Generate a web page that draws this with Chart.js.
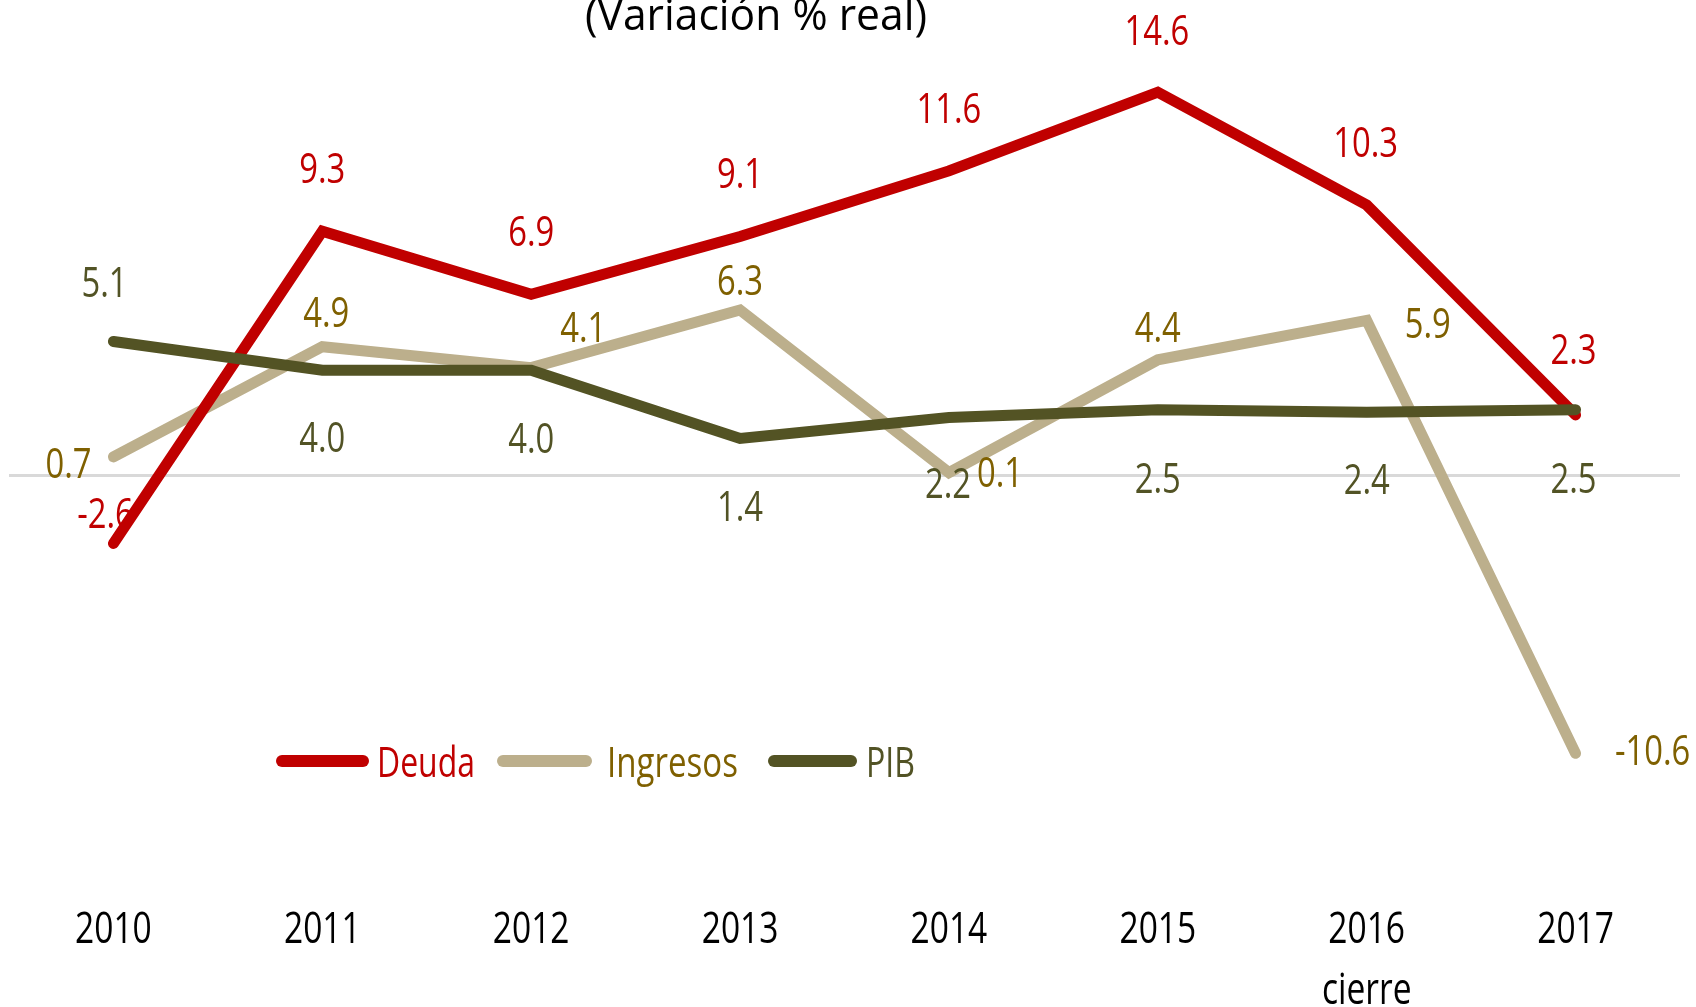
<!DOCTYPE html>
<html>
<head>
<meta charset="utf-8">
<script src="https://cdn.jsdelivr.net/npm/chart.js@4/dist/chart.umd.min.js"></script>
<style>
  html, body { margin: 0; padding: 0; background: #ffffff; overflow: hidden; }
  #wrap { position: relative; width: 1696px; height: 1007px; }
</style>
</head>
<body>
<div id="wrap"><canvas id="c"></canvas></div>
<script>
// ---- data ----
const categories = ['2010', '2011', '2012', '2013', '2014', '2015', ['2016', 'cierre'], '2017'];
const deuda    = [-2.6, 9.3, 6.9, 9.1, 11.6, 14.6, 10.3, 2.3];
const ingresos = [0.7, 4.9, 4.1, 6.3, 0.1, 4.4, 5.9, -10.6];
const pib      = [5.1, 4.0, 4.0, 1.4, 2.2, 2.5, 2.4, 2.5];
const seriesNames = ['Deuda', 'Ingresos', 'PIB'];
const titleText = '(Variación % real)';

// ---- styles ----
const FONT = "'Open Sans', 'Noto Sans', sans-serif";
const lineColors  = ['#C00000', '#BCAF8C', '#535324'];
const labelColors = ['#C00000', '#7F6000', '#525325'];
const TEXT_SX = 0.78;     // horizontal condensing of text (reference uses a narrow face)

// label offsets (dx, dy to baseline) relative to each point
const labelOffsets = [
  [[-8,-15],[0,-48],[0,-48],[0,-48],[0,-48],[-1,-47],[-1,-48],[-2,-51]],
  [[-45,21],[4,-20],[52,-26],[0,-15],[51,14],[0,-18],[61,18],[77,12]],
  [[-9,-44],[0,82],[0,83],[0,82],[-1,80],[0,83],[0,82],[-2,83]]
];

const legendLayout = { y: 761, textBaseline: 777, lines: [[276,369],[497,592],[768,857]], texts: [377,607,866], widths: [98,131,49] };

// condensed text: every fillText is squeezed horizontally around its anchor
(function () {
  const proto = CanvasRenderingContext2D.prototype;
  const orig = proto.fillText;
  proto.fillText = function (t, x, y, m) {
    const sx = this.__sx || 1;
    if (sx === 1) { return m === undefined ? orig.call(this, t, x, y) : orig.call(this, t, x, y, m); }
    this.save();
    this.translate(x, y);
    this.scale(sx, 1);
    if (m === undefined) orig.call(this, t, 0, 0); else orig.call(this, t, 0, 0, m / sx);
    this.restore();
  };
})();

const overlayPlugin = {
  id: 'overlay',
  beforeDraw(chart) { chart.ctx.__sx = TEXT_SX; },
  afterDatasetsDraw(chart) {
    const ctx = chart.ctx;
    ctx.save();
    ctx.__sx = TEXT_SX;
    ctx.font = '42px ' + FONT;
    ctx.textAlign = 'center';
    ctx.textBaseline = 'alphabetic';
    chart.data.datasets.forEach((ds, di) => {
      const meta = chart.getDatasetMeta(di);
      ctx.fillStyle = labelColors[di];
      meta.data.forEach((pt, i) => {
        const off = labelOffsets[di][i];
        ctx.fillText(ds.data[i].toFixed(1), pt.x + off[0], pt.y + off[1]);
      });
    });
    ctx.restore();
  },
  afterDraw(chart) {
    const ctx = chart.ctx;
    ctx.save();
    // title (cropped at top, as in the reference)
    ctx.font = '43px ' + FONT;
    ctx.fillStyle = '#000000';
    ctx.textAlign = 'center';
    ctx.textBaseline = 'alphabetic';
    ctx.__sx = 1;
    const tw = ctx.measureText(titleText).width;
    ctx.__sx = 342 / tw;
    ctx.fillText(titleText, 756, 30);
    // legend
    chart.data.datasets.forEach((ds, di) => {
      const [x1, x2] = legendLayout.lines[di];
      ctx.strokeStyle = ds.borderColor;
      ctx.lineWidth = 12;
      ctx.lineCap = 'round';
      ctx.beginPath();
      ctx.moveTo(x1 + 6, legendLayout.y);
      ctx.lineTo(x2 - 6, legendLayout.y);
      ctx.stroke();
      ctx.font = '42px ' + FONT;
      ctx.fillStyle = labelColors[di];
      ctx.textAlign = 'left';
      ctx.__sx = 1;
      const w = ctx.measureText(ds.label).width;
      ctx.__sx = legendLayout.widths[di] / w;
      ctx.fillText(ds.label, legendLayout.texts[di], legendLayout.textBaseline);
    });
    ctx.__sx = TEXT_SX;
    ctx.restore();
  }
};

const series = [deuda, ingresos, pib];
const drawOrder = [2, 3, 1];

new Chart(document.getElementById('c'), {
  type: 'line',
  data: {
    labels: categories,
    datasets: series.map((vals, i) => ({
      label: seriesNames[i],
      data: vals,
      borderColor: lineColors[i],
      backgroundColor: lineColors[i],
      borderWidth: 11,
      borderCapStyle: 'round',
      borderJoinStyle: 'miter',
      pointRadius: 0,
      pointHoverRadius: 0,
      tension: 0,
      fill: false,
      order: drawOrder[i]
    }))
  },
  options: {
    responsive: true,
    maintainAspectRatio: false,
    devicePixelRatio: 1,
    animation: false,
    events: [],
    layout: { padding: { left: 9, right: 16, top: 3, bottom: 0 } },
    plugins: {
      legend: { display: false },
      title: { display: false },
      tooltip: { enabled: false }
    },
    scales: {
      x: {
        offset: true,
        grid: { display: false, drawTicks: false },
        border: { display: false },
        ticks: {
          color: '#000000',
          font: { family: FONT, size: 43, lineHeight: 1.4 },
          padding: 6,
          maxRotation: 0,
          autoSkip: false
        },
        afterFit(scale) { scale.height = 112; }
      },
      y: {
        min: -16,
        max: 18,
        ticks: { display: false, stepSize: 2 },
        border: { display: false },
        grid: {
          drawTicks: false,
          lineWidth: 3,
          color: (c) => (c.tick && c.tick.value === 0) ? '#D9D9D9' : 'rgba(0,0,0,0)'
        },
        afterFit(scale) { scale.width = 0; }
      }
    }
  },
  plugins: [overlayPlugin]
});
</script>
</body>
</html>
